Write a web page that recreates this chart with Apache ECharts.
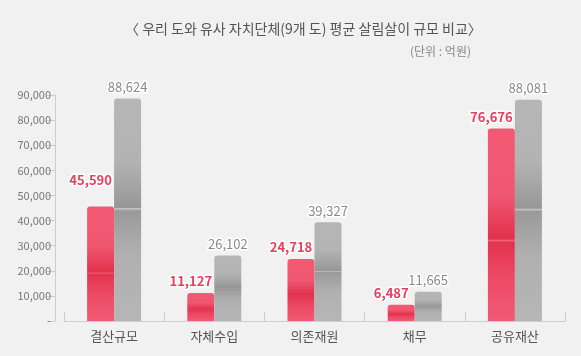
<!DOCTYPE html>
<html><head><meta charset="utf-8">
<script src="https://cdn.jsdelivr.net/npm/echarts@6/dist/echarts.min.js"></script>
<style>html,body{margin:0;padding:0;background:#f1f1f1}#c{width:581px;height:356px}</style>
</head><body><div id="c"></div>
<script>
const categories = ['결산규모', '자체수입', '의존재원', '채무', '공유재산'];
const ourProvince = [45590, 11127, 24718, 6487, 76676];
const similarAvg = [88624, 26102, 39327, 11665, 88081];
const yTicks = [0, 10000, 20000, 30000, 40000, 50000, 60000, 70000, 80000, 90000];

const FONT = '"Noto Sans CJK KR", "Noto Sans", sans-serif';
const fmt = v => v.toLocaleString('en-US');

const redGrad = new echarts.graphic.LinearGradient(0, 0, 0, 1, [
  {offset: 0, color: '#f25a74'},
  {offset: 0.35, color: '#f05670'},
  {offset: 0.56, color: '#e2334f'},
  {offset: 0.575, color: '#e2334f'},
  {offset: 0.58, color: '#f26d84'},
  {offset: 0.59, color: '#e2334f'},
  {offset: 0.75, color: '#ec4863'},
  {offset: 1, color: '#f25a74'}
]);
const grayGrad = new echarts.graphic.LinearGradient(0, 0, 0, 1, [
  {offset: 0, color: '#b6b6b6'},
  {offset: 0.28, color: '#b3b3b3'},
  {offset: 0.49, color: '#979797'},
  {offset: 0.495, color: '#c6c6c6'},
  {offset: 0.505, color: '#9a9a9a'},
  {offset: 0.7, color: '#b0b0b0'},
  {offset: 1, color: '#b6b6b6'}
]);

const chart = echarts.init(document.getElementById('c'), null, {renderer: 'canvas'});
chart.setOption({
  backgroundColor: '#f1f1f1',
  animation: false,
  title: [
    {text: '〈 우리 도와 유사 자치단체(9개 도) 평균 살림살이 규모 비교〉', left: 120, top: 17,
     textStyle: {fontFamily: FONT, fontSize: 14, fontWeight: 'normal', color: '#555'}},
    {text: '(단위 : 억원)', left: 405, top: 40,
     textStyle: {fontFamily: FONT, fontSize: 12, fontWeight: 'normal', color: '#888'}}
  ],
  grid: {left: 64, right: 16, top: 95, bottom: 35},
  xAxis: {
    type: 'category', data: categories,
    axisLine: {lineStyle: {color: '#c9ced6'}},
    axisTick: {show: true, inside: true, length: 9, lineStyle: {color: '#c9ced6'}},
    axisLabel: {fontFamily: FONT, fontSize: 13, color: '#555', margin: 9}
  },
  yAxis: {
    type: 'value', min: 0, max: 90000, interval: 10000, offset: 9,
    axisLine: {show: true, lineStyle: {color: '#c9ced6'}},
    axisTick: {show: true, length: 8, lineStyle: {color: '#c9ced6'}},
    splitLine: {show: false},
    axisLabel: {fontFamily: FONT, fontSize: 11, color: '#777', margin: 4,
      formatter: v => yTicks.includes(v) ? (v === 0 ? '-' : fmt(v)) : ''}
  },
  series: [
    {
      type: 'bar', name: '우리 도', barWidth: 27, barGap: '0%',
      data: ourProvince.map((v, i) => ({
        value: v,
        label: i === 0 ? {offset: [-10, -15]} : undefined
      })),
      itemStyle: {color: redGrad, borderRadius: [3, 3, 0, 0]},
      label: {show: true, position: 'top', distance: 5, offset: [-10, 0],
        formatter: p => fmt(p.value), fontFamily: FONT, fontSize: 13, fontWeight: 'bold',
        color: '#ea3d5e', textBorderColor: '#fff', textBorderWidth: 3}
    },
    {
      type: 'bar', name: '유사 자치단체 평균', barWidth: 27,
      data: similarAvg,
      itemStyle: {color: grayGrad, borderRadius: [3, 3, 0, 0]},
      label: {show: true, position: 'top', distance: 5,
        formatter: p => fmt(p.value), fontFamily: FONT, fontSize: 13,
        color: '#8a8a8a', textBorderColor: '#fff', textBorderWidth: 3}
    }
  ]
});
</script></body></html>
